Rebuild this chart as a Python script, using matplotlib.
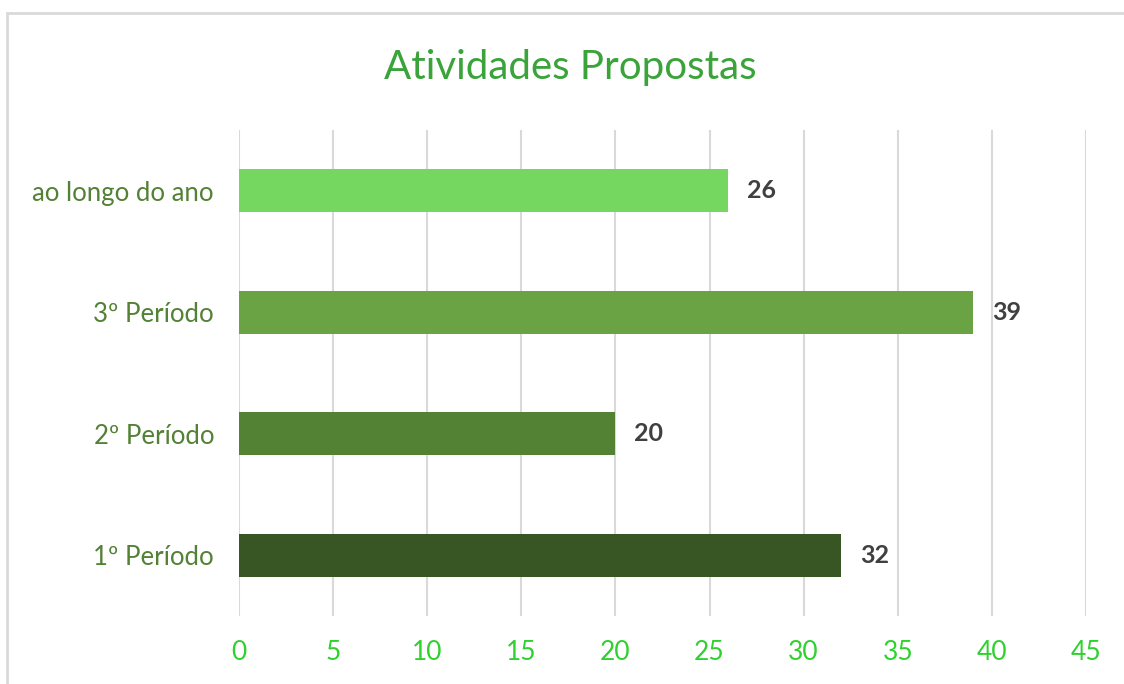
import matplotlib.pyplot as plt
from matplotlib.patches import Rectangle

categories = ['1º Período', '2º Período', '3º Período', 'ao longo do ano']
values = [32, 20, 39, 26]
bar_colors = ['#375623', '#548235', '#6AA343', '#76D760']
xticks = [0, 5, 10, 15, 20, 25, 30, 35, 40, 45]

plt.rcParams['font.family'] = ['Lato', 'DejaVu Sans']

fig = plt.figure(figsize=(11.24, 6.84), dpi=100)
ax = fig.add_axes([239 / 1124, 1 - 616 / 684, (1086 - 239) / 1124, (616 - 130) / 684])

# chart border
fig.patches.append(Rectangle((7 / 1124, -0.1), 1.2, 1 - 13 / 684 + 0.1,
                             transform=fig.transFigure, fill=False,
                             edgecolor='#D9D9D9', linewidth=2))

ypos = list(range(len(categories)))
bars = ax.barh(ypos, values, height=0.35, color=bar_colors, zorder=3)

for y, v in zip(ypos, values):
    ax.text(v + 1.0, y, str(v), va='center', ha='left', fontsize=18,
            fontweight='bold', color='#404040')

ax.set_xlim(0, 45)
ax.set_ylim(-0.5, 3.5)
ax.set_xticks(xticks)
ax.set_yticks(ypos)
ax.set_yticklabels(categories)
ax.grid(axis='x', color='#D9D9D9', linewidth=1.5, zorder=0)
ax.grid(axis='y', visible=False)
for s in ax.spines.values():
    s.set_visible(False)
ax.tick_params(axis='both', length=0)
ax.tick_params(axis='x', labelsize=19, labelcolor='#2ED12E', pad=17)
ax.tick_params(axis='y', labelsize=18.5, labelcolor='#538135', pad=18)

fig.text(570 / 1124, 1 - 68 / 684, 'Atividades Propostas', ha='center', va='center',
         fontsize=29, color='#3AA33A')

fig.savefig('out.png', dpi=100)
